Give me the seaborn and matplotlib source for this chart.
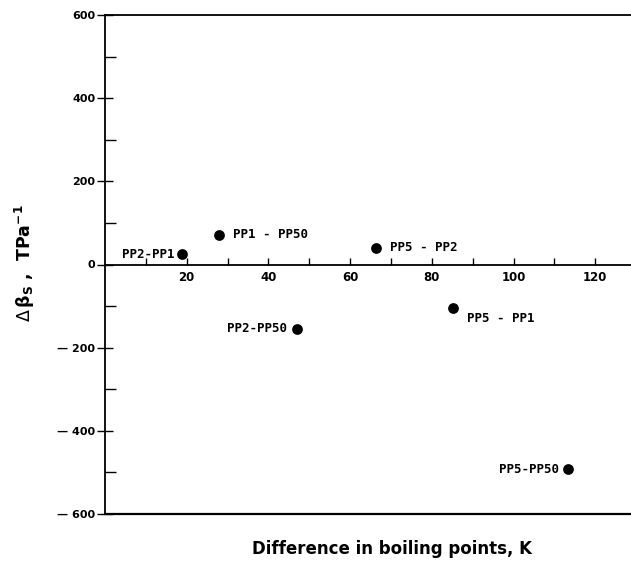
import matplotlib
matplotlib.use('Agg')
import matplotlib.pyplot as plt
import seaborn as sns
import pandas as pd
from matplotlib.ticker import FixedLocator, FuncFormatter

# ---- data ----
pairs = ["PP2-PP1", "PP1 - PP50", "PP5 - PP2", "PP2-PP50", "PP5 - PP1", "PP5-PP50"]
boiling_diff = [18.8, 28.0, 66.4, 47.0, 85.2, 113.4]
delta_beta = [25, 71, 40, -155, -105, -492]

x_major = [20, 40, 60, 80, 100, 120]
x_minor = [10, 30, 50, 70, 90, 110]
y_major = [-600, -400, -200, 0, 200, 400, 600]
y_minor = [-500, -300, -100, 100, 300, 500]

# label placement (pixels offset, alignment)
label_layout = [(-7, 0, 'right'), (14, 0, 'left'), (14, 0, 'left'),
                (-10, 0, 'right'), (14, -10, 'left'), (-9, 0, 'right')]

df = pd.DataFrame({"diff": boiling_diff, "dbeta": delta_beta, "pair": pairs})

sns.set_style('white')
plt.rcParams['font.family'] = ['DejaVu Sans']
plt.rcParams['text.color'] = 'black'
plt.rcParams['axes.labelcolor'] = 'black'
plt.rcParams['xtick.color'] = 'black'
plt.rcParams['ytick.color'] = 'black'

fig = plt.figure(figsize=(6.31, 5.61), dpi=100)
ax = fig.add_axes([105 / 631, 47 / 561, 527 / 631, 499 / 561])

sns.scatterplot(data=df, x="diff", y="dbeta", ax=ax, color='black', s=60,
                linewidth=0, zorder=3, legend=False, clip_on=False)

for (px, py, name), (dx, dy, ha) in zip(zip(boiling_diff, delta_beta, pairs), label_layout):
    ax.annotate(name, (px, py), xytext=(dx, dy), textcoords='offset pixels',
                ha=ha, va='center', fontsize=9, family='DejaVu Sans Mono',
                fontweight='bold', color='black')

ax.set_xlim(0, 129)
ax.set_ylim(-600, 600)

# spines
for s in ['top', 'left', 'bottom']:
    ax.spines[s].set_color('black')
    ax.spines[s].set_linewidth(1.3)
ax.spines['right'].set_visible(False)
ax.spines['bottom'].set_position(('data', 0))
ax.axhline(-600, color='black', lw=1.6, clip_on=False, zorder=2)

# x ticks
ax.xaxis.set_major_locator(FixedLocator(x_major))
ax.xaxis.set_minor_locator(FixedLocator(x_minor))
ax.xaxis.set_major_formatter(FuncFormatter(lambda v, p: f"{int(v)}"))
ax.tick_params(axis='x', which='both', direction='in', length=5, width=1,
               colors='black', pad=5, labelsize=8.5, bottom=True, top=False)
for t in ax.get_xticklabels():
    t.set_fontweight('bold')

# y ticks
ax.yaxis.set_major_locator(FixedLocator(y_major))
ax.yaxis.set_minor_locator(FixedLocator(y_minor))
ax.yaxis.set_major_formatter(FuncFormatter(
    lambda v, p: f"\u2014 {int(-v)}" if v < 0 else f"{int(v)}"))
ax.tick_params(axis='y', which='major', direction='inout', length=12, width=1,
               colors='black', pad=1, labelsize=8, left=True, right=False)
ax.tick_params(axis='y', which='minor', direction='in', length=8, width=1,
               colors='black', left=True, right=False)
for t in ax.get_yticklabels():
    t.set_fontweight('bold')

ax.set_xlabel("Difference in boiling points, K", fontsize=12, fontweight='bold')
ax.set_ylabel(r"$\Delta\,\mathbf{\beta_S}$ ,  TPa$^{\mathbf{-1}}$", fontsize=12.5, fontweight='bold')

# position axis labels in figure pixel coordinates
ax.xaxis.set_label_coords(392 / 631, 1 - 549 / 561, transform=fig.transFigure)
ax.xaxis.label.set_va('center')
ax.yaxis.set_label_coords(25 / 631, 1 - 263 / 561, transform=fig.transFigure)
ax.yaxis.label.set_va('center')

fig.savefig("out.png", dpi=100, facecolor='white')
